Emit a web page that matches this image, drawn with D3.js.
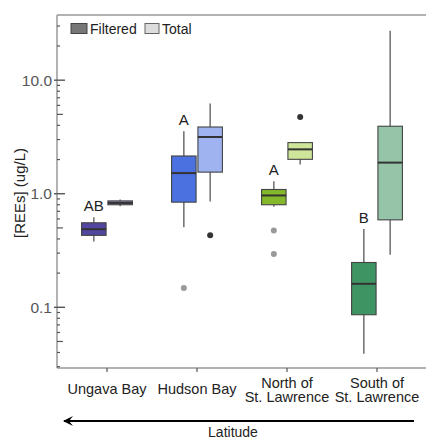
<!DOCTYPE html>
<html>
<head>
<meta charset="utf-8">
<script src="https://cdn.jsdelivr.net/npm/d3@7"></script>
<style>
  body { margin: 0; background: #fff; }
  svg { display: block; font-family: "Liberation Sans", Arial, sans-serif; }
</style>
</head>
<body>
<svg id="chart" width="426" height="437"></svg>
<script>
// regions, south to north reading right to left
var regions = ["Ungava Bay", "Hudson Bay", "North of St. Lawrence", "South of St. Lawrence"];
var regionLines = [["Ungava Bay"], ["Hudson Bay"], ["North of", "St. Lawrence"], ["South of", "St. Lawrence"]];
var fractions = ["Filtered", "Total"];

// box stats per region: [low whisker, q1, median, q3, high whisker]
var filteredStats = [
  [0.38, 0.43, 0.487, 0.555, 0.62],
  [0.507, 0.843, 1.52, 2.15, 3.55],
  [0.77, 0.80, 0.966, 1.09, 1.29],
  [0.039, 0.086, 0.161, 0.248, 0.49]
];
var totalStats = [
  [0.775, 0.80, 0.83, 0.865, 0.89],
  [0.855, 1.55, 3.16, 3.87, 6.23],
  [1.81, 2.01, 2.46, 2.82, 2.82],
  [0.29, 0.589, 1.88, 3.93, 27.2]
];
var filteredOutliers = [[], [0.148], [0.474, 0.295], []];
var totalOutliers = [[], [0.431], [4.74], []];
var groupLetters = ["AB", "A", "A", "B"];

var filteredColors = ["#5146a0", "#4b71e0", "#84b82a", "#3e9463"];
var totalColors = ["#8985b8", "#9eb3f0", "#cfe59a", "#96c4a9"];

var majorTicks = [0.1, 1, 10];
var tickLabels = ["0.1", "1.0", "10.0"];

function dessiner() {
  var svg = d3.select("#chart");
  var gauche = 57, droite = 426, haut = 15, bas = 368;

  var y = d3.scaleLog().domain([0.0292, 37.5]).range([bas, haut]);
  var x = d3.scaleBand().domain(regions).range([62, 422]);
  var xInner = d3.scaleBand().domain(fractions).range([-27, 27]).padding(0.05);
  var boxW = 24.5;

  // frame
  svg.append("line").attr("x1", gauche).attr("x2", droite).attr("y1", haut).attr("y2", haut)
    .attr("stroke", "#999").attr("stroke-width", 1.5);
  svg.append("line").attr("x1", gauche).attr("x2", droite).attr("y1", bas).attr("y2", bas)
    .attr("stroke", "#999").attr("stroke-width", 1.5);
  svg.append("line").attr("x1", gauche).attr("x2", gauche).attr("y1", haut).attr("y2", bas)
    .attr("stroke", "#999").attr("stroke-width", 1.5);

  // minor ticks
  var minorTicks = y.ticks().filter(function(t) { return majorTicks.indexOf(t) < 0; });
  svg.selectAll(".minor").data(minorTicks).enter().append("line")
    .attr("x1", gauche).attr("y1", function(d) { return y(d); })
    .attr("y2", function(d) { return y(d); })
    .attr("x2", function(d) {
      var m = d / Math.pow(10, Math.floor(Math.log10(d) + 1e-9));
      return Math.abs(m - 5) < 0.01 ? gauche + 6 : gauche + 3;
    })
    .attr("stroke", "#555").attr("stroke-width", 1.2);

  // major ticks
  svg.selectAll(".major").data(majorTicks).enter().append("line")
    .attr("x1", gauche - 3).attr("x2", gauche + 8)
    .attr("y1", function(d) { return y(d); }).attr("y2", function(d) { return y(d); })
    .attr("stroke", "#555").attr("stroke-width", 1.4);
  svg.selectAll(".tl").data(majorTicks).enter().append("text")
    .attr("x", gauche - 5).attr("y", function(d) { return y(d) + 5.5; })
    .attr("text-anchor", "end").attr("font-size", 15.5).attr("fill", "#555")
    .text(function(d, i) { return tickLabels[i]; });

  // y label
  svg.append("text")
    .attr("transform", "translate(25,193) rotate(-90)")
    .attr("text-anchor", "middle").attr("font-size", 15).attr("fill", "#222")
    .text("[REEs] (ug/L)");

  // x ticks and labels
  svg.selectAll(".xt").data(regions).enter().append("line")
    .attr("x1", function(d) { return x(d) + x.bandwidth() / 2; })
    .attr("x2", function(d) { return x(d) + x.bandwidth() / 2; })
    .attr("y1", bas).attr("y2", bas + 4)
    .attr("stroke", "#555").attr("stroke-width", 1.2);

  regions.forEach(function(r, i) {
    var cx = x(r) + x.bandwidth() / 2;
    var lines = regionLines[i];
    var y0 = lines.length === 1 ? 393.5 : 387.5;
    lines.forEach(function(l, k) {
      svg.append("text").attr("text-anchor", "middle").attr("font-size", 14.5).attr("fill", "#222")
        .attr("x", cx).attr("y", y0 + k * 14).text(l);
    });
  });

  // boxes
  function drawBox(stats, cx, fill) {
    var g = svg.append("g");
    g.append("line").attr("x1", cx).attr("x2", cx)
      .attr("y1", y(stats[0])).attr("y2", y(stats[4]))
      .attr("stroke", "#777").attr("stroke-width", 1.6);
    g.append("rect").attr("x", cx - boxW / 2).attr("width", boxW)
      .attr("y", y(stats[3])).attr("height", y(stats[1]) - y(stats[3]))
      .attr("fill", fill).attr("stroke", "#444").attr("stroke-width", 1.1);
    g.append("line").attr("x1", cx - boxW / 2).attr("x2", cx + boxW / 2)
      .attr("y1", y(stats[2])).attr("y2", y(stats[2]))
      .attr("stroke", "#333").attr("stroke-width", 2);
  }

  regions.forEach(function(r, i) {
    var c = x(r) + x.bandwidth() / 2;
    var cf = c + xInner("Filtered") + xInner.bandwidth() / 2;
    var ct = c + xInner("Total") + xInner.bandwidth() / 2;
    drawBox(filteredStats[i], cf, filteredColors[i]);
    drawBox(totalStats[i], ct, totalColors[i]);

    svg.selectAll(null).data(filteredOutliers[i]).enter().append("circle")
      .attr("cx", cf).attr("cy", function(d) { return y(d); }).attr("r", 3)
      .attr("fill", "#999");
    svg.selectAll(null).data(totalOutliers[i]).enter().append("circle")
      .attr("cx", ct).attr("cy", function(d) { return y(d); }).attr("r", 3)
      .attr("fill", "#333");

    svg.append("text").attr("x", cf).attr("y", y(filteredStats[i][4]) - 6)
      .attr("text-anchor", "middle").attr("font-size", 15).attr("fill", "#222")
      .text(groupLetters[i]);
  });

  // legend
  svg.append("rect").attr("x", 71).attr("y", 23.5).attr("width", 16).attr("height", 10)
    .attr("fill", "#777").attr("stroke", "#444").attr("stroke-width", 1);
  svg.append("text").attr("x", 90).attr("y", 33.5).attr("font-size", 14).attr("fill", "#222").text("Filtered");
  svg.append("rect").attr("x", 145).attr("y", 23.5).attr("width", 14).attr("height", 10)
    .attr("fill", "#ddd").attr("stroke", "#666").attr("stroke-width", 1);
  svg.append("text").attr("x", 162).attr("y", 33.5).attr("font-size", 14).attr("fill", "#222").text("Total");

  // latitude arrow
  svg.append("defs").append("marker")
    .attr("id", "head").attr("viewBox", "0 0 10 10").attr("refX", 1).attr("refY", 5)
    .attr("markerWidth", 10).attr("markerHeight", 10).attr("orient", "auto")
    .attr("markerUnits", "userSpaceOnUse")
    .append("path").attr("d", "M10,0 L0,5 L10,10 L6,5 Z").attr("fill", "#000");
  svg.append("line").attr("x1", 64).attr("x2", 414).attr("y1", 421).attr("y2", 421)
    .attr("stroke", "#000").attr("stroke-width", 2)
    .attr("marker-start", "url(#head)");
  svg.append("text").attr("x", 233).attr("y", 437).attr("text-anchor", "middle")
    .attr("font-size", 14).attr("fill", "#222").text("Latitude");
}

dessiner();
</script>
</body>
</html>
